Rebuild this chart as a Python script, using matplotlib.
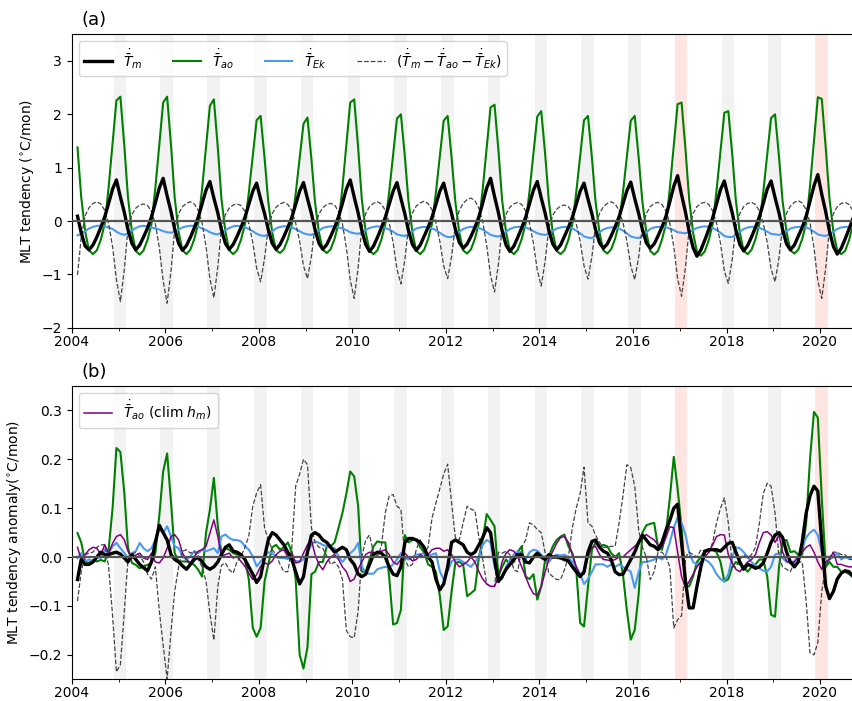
import numpy as np
import pandas as pd
import matplotlib
matplotlib.use("Agg")
import matplotlib.pyplot as plt
import matplotlib.dates as mdates

# monthly values, plotted mid-month, Feb 2004 .. Sep 2020 (one row per calendar year)
months = pd.date_range("2004-02-01", "2020-09-01", freq="MS") + pd.Timedelta(days=14)

# ---- (a) mixed-layer temperature tendency terms (degC/mon)
tm = [
    0.09, -0.22, -0.47, -0.54, -0.45, -0.3, -0.12, 0.08, 0.33, 0.6, 0.77,
    0.45, 0.16, -0.16, -0.42, -0.54, -0.45, -0.3, -0.13, 0.08, 0.34, 0.62, 0.8,
    0.47, 0.17, -0.15, -0.42, -0.55, -0.46, -0.31, -0.13, 0.07, 0.32, 0.58, 0.74,
    0.43, 0.15, -0.16, -0.42, -0.53, -0.44, -0.29, -0.12, 0.07, 0.31, 0.56, 0.71,
    0.41, 0.14, -0.16, -0.42, -0.53, -0.44, -0.29, -0.12, 0.07, 0.31, 0.56, 0.72,
    0.42, 0.14, -0.16, -0.42, -0.53, -0.44, -0.29, -0.12, 0.08, 0.33, 0.6, 0.77,
    0.45, 0.15, -0.17, -0.44, -0.57, -0.47, -0.31, -0.13, 0.07, 0.31, 0.56, 0.72,
    0.42, 0.13, -0.18, -0.44, -0.55, -0.45, -0.29, -0.12, 0.07, 0.31, 0.56, 0.71,
    0.41, 0.14, -0.15, -0.4, -0.51, -0.43, -0.29, -0.12, 0.08, 0.34, 0.62, 0.8,
    0.46, 0.15, -0.18, -0.45, -0.57, -0.47, -0.31, -0.13, 0.07, 0.32, 0.58, 0.74,
    0.43, 0.14, -0.17, -0.43, -0.54, -0.45, -0.29, -0.12, 0.07, 0.31, 0.56, 0.71,
    0.41, 0.13, -0.16, -0.41, -0.51, -0.43, -0.28, -0.11, 0.08, 0.32, 0.57, 0.73,
    0.42, 0.14, -0.16, -0.41, -0.51, -0.43, -0.28, -0.11, 0.09, 0.36, 0.65, 0.85,
    0.49, 0.16, -0.2, -0.5, -0.66, -0.54, -0.36, -0.16, 0.06, 0.32, 0.59, 0.75,
    0.44, 0.15, -0.17, -0.44, -0.56, -0.46, -0.3, -0.12, 0.08, 0.33, 0.6, 0.75,
    0.44, 0.15, -0.16, -0.43, -0.54, -0.45, -0.29, -0.12, 0.09, 0.37, 0.66, 0.87,
    0.5, 0.17, -0.19, -0.48, -0.62, -0.51, -0.34, -0.15, 0.05,
]
tao = [
    1.38, 0.45, -0.2, -0.55, -0.62, -0.55, -0.35, -0.05, 0.63, 1.47, 2.26,
    2.33, 1.4, 0.45, -0.2, -0.56, -0.63, -0.55, -0.35, -0.05, 0.62, 1.44, 2.22,
    2.33, 1.4, 0.44, -0.21, -0.55, -0.62, -0.54, -0.34, -0.04, 0.6, 1.4, 2.16,
    2.28, 1.37, 0.42, -0.2, -0.55, -0.62, -0.55, -0.35, -0.06, 0.53, 1.23, 1.89,
    1.97, 1.18, 0.36, -0.22, -0.55, -0.6, -0.53, -0.34, -0.06, 0.51, 1.18, 1.82,
    1.94, 1.16, 0.35, -0.22, -0.54, -0.6, -0.53, -0.33, -0.04, 0.62, 1.44, 2.22,
    2.28, 1.37, 0.42, -0.21, -0.56, -0.62, -0.55, -0.35, -0.06, 0.54, 1.25, 1.92,
    2.0, 1.2, 0.37, -0.22, -0.56, -0.62, -0.54, -0.34, -0.05, 0.53, 1.22, 1.88,
    1.97, 1.18, 0.36, -0.22, -0.55, -0.61, -0.53, -0.33, -0.04, 0.6, 1.38, 2.13,
    2.18, 1.31, 0.4, -0.21, -0.55, -0.62, -0.54, -0.34, -0.05, 0.55, 1.27, 1.96,
    2.06, 1.24, 0.38, -0.22, -0.56, -0.62, -0.55, -0.35, -0.05, 0.53, 1.23, 1.89,
    1.97, 1.18, 0.36, -0.22, -0.55, -0.61, -0.53, -0.33, -0.04, 0.53, 1.22, 1.88,
    1.97, 1.18, 0.36, -0.22, -0.56, -0.63, -0.56, -0.35, -0.05, 0.61, 1.42, 2.19,
    2.22, 1.33, 0.41, -0.22, -0.58, -0.65, -0.57, -0.36, -0.06, 0.57, 1.32, 2.03,
    2.06, 1.24, 0.38, -0.22, -0.56, -0.62, -0.54, -0.34, -0.05, 0.54, 1.25, 1.93,
    2.0, 1.2, 0.37, -0.21, -0.55, -0.61, -0.54, -0.34, -0.04, 0.65, 1.5, 2.32,
    2.29, 1.37, 0.42, -0.21, -0.56, -0.62, -0.56, -0.36, -0.06,
]
tek = [
    -0.27, -0.24, -0.19, -0.14, -0.11, -0.09, -0.09, -0.1, -0.12, -0.15, -0.2,
    -0.24, -0.26, -0.23, -0.18, -0.13, -0.1, -0.09, -0.1, -0.12, -0.14, -0.16, -0.19,
    -0.21, -0.22, -0.2, -0.16, -0.12, -0.1, -0.09, -0.09, -0.11, -0.14, -0.17, -0.21,
    -0.24, -0.25, -0.22, -0.17, -0.13, -0.1, -0.09, -0.1, -0.12, -0.15, -0.19, -0.24,
    -0.27, -0.28, -0.25, -0.19, -0.14, -0.11, -0.1, -0.1, -0.12, -0.15, -0.19, -0.23,
    -0.25, -0.26, -0.23, -0.18, -0.13, -0.11, -0.1, -0.1, -0.12, -0.14, -0.17, -0.21,
    -0.23, -0.24, -0.22, -0.17, -0.13, -0.11, -0.1, -0.11, -0.13, -0.16, -0.2, -0.25,
    -0.27, -0.28, -0.25, -0.19, -0.14, -0.12, -0.11, -0.12, -0.14, -0.17, -0.22, -0.27,
    -0.3, -0.3, -0.26, -0.2, -0.15, -0.12, -0.11, -0.11, -0.13, -0.16, -0.21, -0.26,
    -0.28, -0.29, -0.26, -0.2, -0.15, -0.12, -0.11, -0.11, -0.12, -0.15, -0.19, -0.23,
    -0.25, -0.26, -0.24, -0.19, -0.14, -0.12, -0.11, -0.12, -0.14, -0.18, -0.23, -0.29,
    -0.31, -0.32, -0.28, -0.21, -0.16, -0.13, -0.12, -0.12, -0.14, -0.18, -0.23, -0.29,
    -0.31, -0.32, -0.28, -0.21, -0.15, -0.12, -0.11, -0.11, -0.12, -0.14, -0.17, -0.21,
    -0.22, -0.23, -0.21, -0.17, -0.13, -0.11, -0.1, -0.11, -0.13, -0.17, -0.22, -0.28,
    -0.3, -0.3, -0.26, -0.2, -0.15, -0.12, -0.11, -0.11, -0.13, -0.16, -0.2, -0.24,
    -0.25, -0.26, -0.24, -0.19, -0.14, -0.12, -0.11, -0.11, -0.12, -0.15, -0.2, -0.25,
    -0.27, -0.28, -0.25, -0.2, -0.15, -0.12, -0.11, -0.11, -0.12,
]
resid = [
    -1.01, -0.3, 0.1, 0.25, 0.33, 0.36, 0.32, 0.2, -0.05, -0.48, -1.1,
    -1.51, -0.9, -0.15, 0.12, 0.24, 0.3, 0.32, 0.29, 0.18, -0.05, -0.5, -1.12,
    -1.54, -0.92, -0.15, 0.14, 0.27, 0.33, 0.36, 0.32, 0.2, -0.04, -0.48, -1.08,
    -1.44, -0.86, -0.14, 0.12, 0.24, 0.3, 0.32, 0.29, 0.18, -0.05, -0.4, -0.88,
    -1.14, -0.7, -0.12, 0.14, 0.26, 0.32, 0.35, 0.31, 0.19, -0.04, -0.38, -0.84,
    -1.08, -0.66, -0.1, 0.13, 0.25, 0.31, 0.33, 0.3, 0.18, -0.05, -0.5, -1.1,
    -1.45, -0.87, -0.14, 0.14, 0.27, 0.33, 0.36, 0.32, 0.2, -0.03, -0.4, -0.9,
    -1.18, -0.72, -0.11, 0.15, 0.28, 0.34, 0.37, 0.33, 0.21, -0.03, -0.38, -0.84,
    -1.08, -0.66, -0.08, 0.2, 0.33, 0.4, 0.43, 0.38, 0.24, -0.01, -0.46, -1.02,
    -1.33, -0.8, -0.13, 0.13, 0.26, 0.32, 0.35, 0.31, 0.19, -0.04, -0.42, -0.92,
    -1.22, -0.74, -0.13, 0.11, 0.22, 0.28, 0.3, 0.27, 0.16, -0.05, -0.38, -0.84,
    -1.09, -0.66, -0.1, 0.14, 0.27, 0.33, 0.36, 0.32, 0.2, -0.03, -0.38, -0.84,
    -1.1, -0.67, -0.1, 0.14, 0.27, 0.33, 0.35, 0.31, 0.19, -0.04, -0.48, -1.08,
    -1.41, -0.85, -0.14, 0.14, 0.27, 0.33, 0.35, 0.31, 0.19, -0.04, -0.42, -0.94,
    -1.17, -0.71, -0.11, 0.14, 0.27, 0.33, 0.35, 0.31, 0.19, -0.04, -0.4, -0.9,
    -1.14, -0.69, -0.1, 0.15, 0.28, 0.35, 0.38, 0.34, 0.21, -0.03, -0.5, -1.12,
    -1.45, -0.87, -0.14, 0.14, 0.27, 0.33, 0.35, 0.31, 0.19,
]

# ---- (b) anomalies (degC/mon)
tm_anom = [
    -0.046, -0.005, -0.015, -0.015, -0.01, 0.0, 0.01, 0.005, 0.005, 0.008, 0.01,
    0.006, -0.002, -0.01, 0.005, -0.005, -0.015, -0.022, -0.028, -0.01, 0.03, 0.065, 0.05,
    0.035, 0.005, -0.005, -0.01, -0.018, -0.025, -0.015, -0.005, 0.0, -0.01, -0.02, -0.025,
    -0.02, -0.01, 0.005, 0.02, 0.025, 0.012, 0.01, 0.005, -0.005, -0.02, -0.035, -0.052,
    -0.04, 0.0, 0.035, 0.05, 0.045, 0.035, 0.025, 0.01, -0.005, -0.03, -0.055, -0.04,
    0.01, 0.045, 0.05, 0.045, 0.035, 0.03, 0.02, 0.01, 0.015, 0.02, 0.015, -0.005,
    -0.015, -0.035, -0.04, -0.035, -0.015, 0.005, 0.01, 0.008, 0.0, -0.02, -0.035, -0.038,
    -0.02, 0.03, 0.038, 0.038, 0.035, 0.03, 0.02, 0.0, -0.01, -0.045, -0.067, -0.055,
    -0.02, 0.03, 0.035, 0.03, 0.025, 0.01, 0.005, 0.01, 0.025, 0.04, 0.06, 0.05,
    -0.005, -0.05, -0.04, -0.025, -0.015, -0.005, 0.005, 0.005, -0.01, -0.012, 0.0, 0.008,
    0.0, -0.005, 0.005, 0.0, 0.0, -0.002, -0.005, -0.008, -0.02, -0.03, -0.04, -0.03,
    0.01, 0.032, 0.035, 0.02, 0.012, 0.008, -0.005, -0.03, -0.036, -0.035, -0.02, -0.005,
    0.01, 0.03, 0.045, 0.035, 0.025, 0.022, 0.015, 0.03, 0.055, 0.075, 0.1, 0.108,
    0.03, -0.05, -0.104, -0.104, -0.06, -0.02, 0.012, 0.015, 0.015, 0.015, 0.012, 0.02,
    0.028, 0.03, 0.01, -0.01, -0.025, -0.015, -0.018, -0.023, -0.02, -0.012, 0.008, 0.03,
    0.045, 0.05, 0.04, 0.01, -0.01, -0.02, -0.01, 0.03, 0.09, 0.125, 0.145, 0.135,
    0.03, -0.06, -0.085, -0.07, -0.045, -0.033, -0.028, -0.03, -0.04,
]
tao_anom = [
    0.049, 0.03, -0.01, -0.012, -0.006, -0.009, -0.006, -0.009, 0.015, 0.1, 0.223,
    0.215, 0.13, 0.02, -0.012, -0.016, -0.023, -0.019, -0.016, -0.012, 0.008, 0.085, 0.175,
    0.212, 0.11, 0.008, -0.009, -0.009, -0.009, -0.012, -0.016, -0.026, -0.04, 0.05, 0.097,
    0.162, 0.063, 0.008, 0.018, 0.015, 0.008, 0.005, 0.002, -0.005, -0.046, -0.145, -0.163,
    -0.145, -0.05, -0.015, 0.02, 0.025, 0.015, 0.02, 0.03, 0.01, -0.045, -0.2, -0.228,
    -0.185, -0.035, -0.03, -0.01, -0.01, 0.022, 0.022, 0.03, 0.06, 0.09, 0.13, 0.175,
    0.165, 0.104, -0.03, -0.03, -0.005, 0.022, 0.032, 0.03, 0.03, -0.04, -0.138, -0.135,
    -0.108, 0.045, 0.03, 0.035, 0.035, 0.02, 0.01, -0.015, -0.02, -0.03, -0.08, -0.149,
    -0.142, -0.07, -0.012, -0.01, -0.015, -0.08, -0.074, -0.067, 0.0, 0.035, 0.088, 0.076,
    0.063, -0.04, -0.02, -0.005, -0.015, -0.01, 0.01, 0.022, -0.04, -0.045, -0.035, -0.087,
    -0.06, -0.005, 0.0, 0.022, 0.035, 0.042, 0.046, 0.022, 0.008, -0.025, -0.135, -0.142,
    -0.06, 0.015, 0.03, 0.02, 0.025, 0.022, 0.008, 0.0, 0.008, -0.035, -0.11, -0.169,
    -0.149, -0.075, 0.05, 0.065, 0.068, 0.07, 0.02, 0.015, 0.05, 0.12, 0.205, 0.14,
    0.06, -0.06, -0.06, -0.04, -0.01, 0.0, 0.012, 0.015, 0.015, 0.01, -0.01, -0.05,
    -0.045, -0.02, -0.01, -0.015, -0.02, -0.03, -0.02, -0.015, -0.005, -0.005, -0.04, -0.118,
    -0.122, -0.02, 0.033, 0.035, 0.01, 0.012, 0.005, 0.005, 0.07, 0.2, 0.297, 0.285,
    0.12, -0.02, -0.01, -0.02, -0.02, -0.03, -0.03, -0.035, -0.04,
]
tek_anom = [
    -0.002, 0.008, -0.009, -0.005, -0.009, 0.001, -0.002, 0.015, 0.008, 0.022, 0.029,
    0.018, 0.008, -0.002, 0.008, 0.012, 0.029, 0.018, 0.012, 0.018, 0.035, 0.059, 0.049,
    0.063, 0.042, 0.022, 0.018, 0.001, -0.005, 0.001, 0.012, 0.008, 0.015, 0.012, 0.015,
    0.018, 0.008, 0.042, 0.046, 0.039, 0.035, 0.035, 0.032, 0.022, 0.015, 0.001, -0.019,
    -0.009, 0.0, 0.01, 0.008, 0.001, -0.002, -0.002, -0.004, -0.005, -0.008, -0.009, -0.005,
    0.01, 0.025, 0.032, 0.029, 0.025, 0.022, 0.02, 0.018, 0.001, -0.01, 0.0, 0.008,
    0.015, 0.029, -0.019, -0.033, -0.034, -0.034, -0.025, -0.022, -0.02, -0.022, -0.015, -0.005,
    0.008, -0.002, -0.005, 0.0, 0.005, 0.006, 0.008, 0.002, 0.005, 0.008, -0.029, -0.046,
    -0.029, -0.009, -0.005, -0.005, -0.01, -0.015, -0.02, -0.01, 0.0, 0.025, 0.035, 0.03,
    -0.02, -0.04, -0.045, -0.02, -0.005, 0.005, 0.012, 0.005, -0.005, 0.01, 0.015, 0.013,
    0.005, -0.005, -0.01, 0.0, 0.005, 0.003, 0.005, 0.0, -0.01, -0.02, -0.035, -0.055,
    -0.045, -0.03, -0.015, -0.015, -0.015, -0.02, -0.015, -0.02, -0.015, -0.02, -0.025, -0.03,
    -0.063, -0.03, -0.01, -0.01, -0.008, -0.005, 0.0, -0.005, 0.005, 0.03, 0.06, 0.08,
    0.07, 0.045, 0.01, -0.01, -0.015, -0.01, -0.005, -0.01, -0.02, -0.035, -0.045, -0.05,
    -0.035, 0.0, 0.02, 0.018, 0.01, 0.0, -0.01, -0.018, -0.023, -0.028, -0.029, -0.02,
    0.005, 0.008, -0.002, -0.01, -0.012, -0.008, 0.0, 0.02, 0.04, 0.05, 0.056, 0.045,
    0.01, -0.01, -0.005, 0.0, 0.008, -0.005, 0.0, -0.003, 0.0,
]
resid_anom = [
    -0.09, -0.03, 0.005, 0.008, 0.01, 0.02, 0.025, 0.025, -0.02, -0.12, -0.235,
    -0.22, -0.11, -0.005, 0.005, 0.01, 0.002, -0.01, -0.035, -0.045, -0.02, -0.11, -0.18,
    -0.25, -0.15, -0.07, -0.02, 0.012, 0.015, 0.008, 0.012, -0.005, -0.02, -0.05, -0.115,
    -0.17, -0.06, -0.017, -0.012, -0.026, -0.033, -0.009, 0.001, 0.02, 0.043, 0.104, 0.131,
    0.148, 0.06, 0.035, 0.015, 0.005, -0.015, -0.03, -0.03, 0.02, 0.145, 0.17, 0.2,
    0.189, 0.06, 0.03, 0.02, 0.018, 0.002, -0.015, -0.01, -0.02, -0.045, -0.15, -0.163,
    -0.165, -0.11, 0.0, 0.035, 0.045, 0.008, 0.001, 0.022, 0.09, 0.125, 0.128, 0.104,
    0.098, -0.005, -0.02, -0.015, 0.015, 0.035, 0.008, 0.02, 0.08, 0.11, 0.14, 0.17,
    0.19, 0.11, 0.04, 0.035, 0.07, 0.104, 0.098, 0.095, 0.04, -0.005, -0.055, -0.06,
    -0.06, 0.01, 0.008, 0.012, 0.005, -0.026, -0.03, 0.02, 0.035, 0.07, 0.066, 0.056,
    0.05, 0.008, -0.033, -0.04, -0.046, -0.046, -0.026, 0.0, 0.06, 0.1, 0.13, 0.184,
    0.07, 0.063, 0.045, 0.03, 0.02, 0.02, 0.022, 0.022, 0.07, 0.125, 0.189, 0.183,
    0.145, 0.055, 0.02, 0.0, -0.046, -0.03, 0.01, 0.01, 0.0, -0.02, -0.145, -0.128,
    -0.12, 0.0, 0.01, 0.005, 0.0, 0.015, 0.012, 0.008, 0.03, 0.07, 0.1, 0.121,
    0.07, -0.02, -0.02, -0.005, 0.005, -0.002, 0.005, 0.02, 0.07, 0.13, 0.151, 0.145,
    0.09, 0.0, -0.02, -0.025, -0.03, -0.01, -0.01, -0.01, -0.09, -0.196, -0.2, -0.175,
    -0.07, -0.02, 0.0, 0.01, 0.01, 0.005, 0.005, -0.005, -0.005,
]
tao_clim_hm_anom = [
    0.02, -0.005, 0.005, 0.015, 0.02, 0.018, 0.005, 0.025, 0.008, 0.028, 0.042,
    0.046, 0.035, 0.012, -0.002, 0.004, 0.008, -0.002, -0.005, 0.008, -0.01, -0.012, -0.002,
    0.018, 0.042, 0.046, 0.035, 0.008, -0.005, -0.012, 0.001, 0.012, 0.015, 0.022, 0.049,
    0.076, 0.042, 0.001, 0.005, 0.008, -0.002, 0.001, -0.009, -0.019, -0.033, -0.046, -0.036,
    -0.019, -0.012, -0.015, -0.008, 0.005, 0.012, 0.015, 0.0, 0.008, -0.012, -0.01, 0.008,
    0.025, 0.035, 0.005, -0.015, -0.026, -0.01, 0.0, 0.005, -0.005, -0.02, -0.03, -0.05,
    -0.045, -0.025, -0.01, 0.005, 0.01, 0.008, 0.01, 0.012, 0.015, 0.005, -0.01, -0.015,
    -0.005, 0.008, 0.0, -0.008, -0.005, 0.005, 0.0, 0.005, 0.015, 0.018, 0.018, 0.012,
    0.015, 0.005, -0.01, -0.02, -0.015, -0.01, 0.0, -0.01, -0.03, -0.045, -0.055, -0.06,
    -0.06, -0.04, -0.01, 0.008, 0.015, 0.012, 0.0, -0.02, -0.04, -0.06, -0.075, -0.078,
    -0.06, -0.03, -0.005, 0.012, 0.028, 0.04, 0.042, 0.03, 0.005, -0.02, -0.036, -0.035,
    0.0, 0.02, 0.022, 0.005, -0.005, -0.006, -0.008, -0.005, 0.0, 0.0, 0.008, 0.015,
    0.022, 0.03, 0.04, 0.046, 0.04, 0.035, 0.025, 0.02, 0.04, 0.062, 0.06, 0.01,
    -0.04, -0.062, -0.05, -0.035, -0.02, -0.01, 0.0, 0.01, 0.025, 0.042, 0.046, 0.045,
    0.005, -0.012, -0.025, -0.03, -0.02, -0.01, -0.005, 0.005, 0.03, 0.05, 0.052, 0.045,
    0.03, 0.045, 0.01, -0.008, -0.012, -0.01, 0.0, 0.01, 0.02, 0.025, 0.01, -0.01,
    -0.025, -0.01, -0.005, 0.01, -0.015, -0.015, -0.018, -0.02, -0.02,
]

# shaded DJF windows (labelled by the Jan year); pink ones highlighted
band_years = list(range(2005, 2021))
highlight_years = [2017, 2020]

C_TM = "k"
C_TAO = "green"
C_EK = "#4a9af0"
C_RES = "#444444"
C_CLIM = "purple"


def shade(ax):
    for y in band_years:
        col = "salmon" if y in highlight_years else "gray"
        a = 0.2 if y in highlight_years else 0.1
        ax.axvspan(pd.Timestamp(f"{y - 1}-11-24"), pd.Timestamp(f"{y}-03-02"),
                   color=col, alpha=a, lw=0, zorder=0)


def style_x(ax):
    ax.set_xlim(pd.Timestamp("2004-01-01"), pd.Timestamp("2020-09-07"))
    ax.xaxis.set_major_locator(mdates.YearLocator(2))
    ax.xaxis.set_minor_locator(mdates.YearLocator(1))
    ax.xaxis.set_major_formatter(mdates.DateFormatter("%Y"))
    ax.spines["right"].set_visible(False)
    ax.tick_params(labelsize=10)
    ax.tick_params(axis="x", which="major", pad=1.5)


fig = plt.figure(figsize=(8.52, 7.01), dpi=100)
ax1 = fig.add_axes([0.0842, 0.5325, 0.9158, 0.4186])
ax2 = fig.add_axes([0.0842, 0.0310, 0.9158, 0.4184])

# (a)
shade(ax1)
ax1.axhline(0, color="#555555", lw=1.6, zorder=5)
ax1.plot(months, tm, color=C_TM, lw=2.4, label=r"$\dot{\bar{T}}_m$", zorder=4)
ax1.plot(months, tao, color=C_TAO, lw=1.5, label=r"$\dot{\bar{T}}_{ao}$", zorder=3)
ax1.plot(months, tek, color=C_EK, lw=1.5, label=r"$\dot{\bar{T}}_{Ek}$", zorder=3)
ax1.plot(months, resid, color=C_RES, lw=0.9, ls="--",
         label=r"$(\dot{\bar{T}}_m - \dot{\bar{T}}_{ao} - \dot{\bar{T}}_{Ek})$", zorder=3)
ax1.set_ylim(-2, 3.5)
ax1.set_yticks([-2, -1, 0, 1, 2, 3])
ax1.set_ylabel(r"MLT tendency ($^{\circ}$C/mon)", fontsize=10)
style_x(ax1)
ax1.legend(loc="upper left", ncol=4, fontsize=10, columnspacing=2.2)
ax1.text(0.012, 1.018, "(a)", transform=ax1.transAxes, fontsize=13, va="bottom")

# (b)
shade(ax2)
ax2.axhline(0, color="#555555", lw=1.6, zorder=5)
ax2.plot(months, tm_anom, color=C_TM, lw=2.4, zorder=4)
ax2.plot(months, tao_anom, color=C_TAO, lw=1.5, zorder=3)
ax2.plot(months, tek_anom, color=C_EK, lw=1.5, zorder=3)
ax2.plot(months, resid_anom, color=C_RES, lw=0.9, ls="--", zorder=3)
ax2.plot(months, tao_clim_hm_anom, color=C_CLIM, lw=1.1, zorder=3,
         label=r"$\dot{\bar{T}}_{ao}$ (clim $h_m$)")
ax2.set_ylim(-0.25, 0.35)
ax2.set_yticks([-0.2, -0.1, 0.0, 0.1, 0.2, 0.3])
ax2.set_ylabel(r"MLT tendency anomaly($^{\circ}$C/mon)", fontsize=10)
style_x(ax2)
ax2.legend(loc="upper left", fontsize=10)
ax2.text(0.012, 1.018, "(b)", transform=ax2.transAxes, fontsize=13, va="bottom")

fig.savefig("out.png", dpi=100)
